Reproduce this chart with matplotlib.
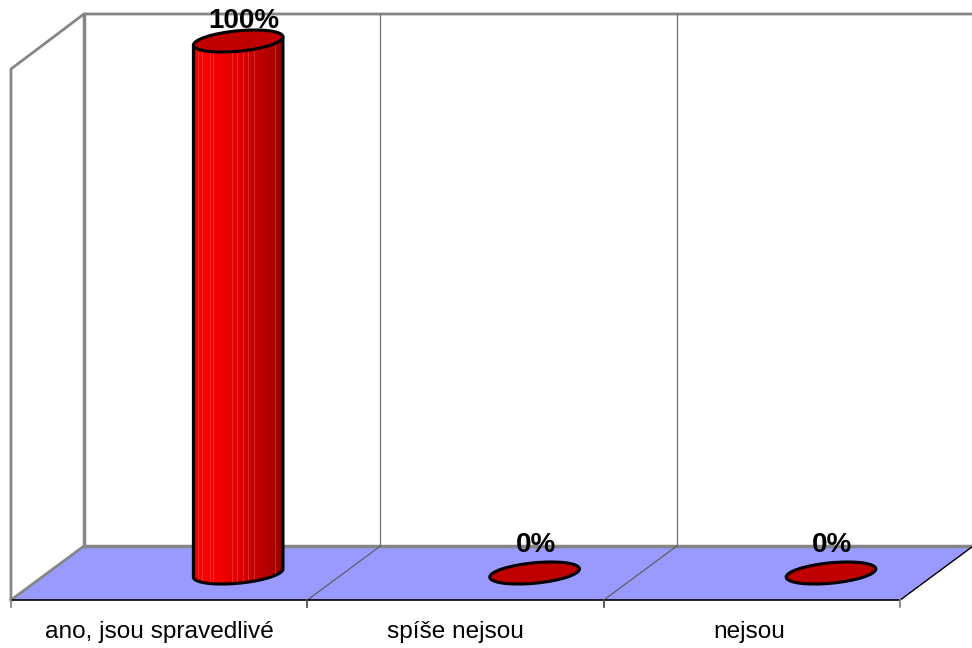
import numpy as np
import matplotlib
matplotlib.use('Agg')
import matplotlib.pyplot as plt
from matplotlib.colors import LinearSegmentedColormap
from matplotlib.patches import Ellipse, PathPatch, Polygon
from matplotlib.path import Path

categories = ['ano, jsou spravedlivé', 'spíše nejsou', 'nejsou']
values = [100, 0, 0]

plt.rcParams['font.family'] = ['Liberation Sans', 'DejaVu Sans']

# pixel layout of the fake 3d box
left, front_y, back_y, top_y = 11, 600, 546, 14
depth_x = 73
cat_w = 296.4
bar_shift = 79
base_y = 573
per_unit = 5.32
a, b, tilt = 45, 10.2, 5.5

grey = '#868686'
shade = LinearSegmentedColormap.from_list('cyl', [(0, '#e60000'), (0.1, '#ff0000'), (0.45, '#e60000'),
                                                  (0.7, '#c40000'), (0.92, '#a80000'), (1, '#8c0000')])
stripes = [5, 9, 17, 20, 39, 44, 50, 55, 61, 82]

fig = plt.figure(figsize=(9.72, 6.48), dpi=100)
ax = fig.add_axes([0, 0, 1, 1])
ax.set_xlim(0, 972)
ax.set_ylim(648, 0)
ax.axis('off')

n = len(categories)
right = left + n * cat_w
back_left = left + depth_x

ax.add_patch(Polygon([(left, front_y), (back_left, back_y), (right + depth_x, back_y), (right, front_y)],
                     fc='#9999ff', ec='none', zorder=1))

# walls
ax.plot([left, left, back_left, back_left, right + depth_x], [front_y, top_y + 55, top_y, top_y, top_y],
        color=grey, lw=2, zorder=2, solid_joinstyle='miter')
ax.plot([back_left, back_left], [top_y, back_y], color=grey, lw=2.5, zorder=2)
ax.plot([back_left, right + depth_x], [back_y, back_y], color=grey, lw=2.5, zorder=2)
ax.plot([left, back_left], [front_y, back_y], color=grey, lw=2, zorder=2)

# grid lines per category
for i in range(1, n):
    x = left + i * cat_w
    ax.plot([x + depth_x, x + depth_x], [top_y, back_y], color='#707070', lw=0.9, zorder=2)
    ax.plot([x, x + depth_x], [front_y, back_y], color='#606060', lw=0.9, zorder=2)
ax.plot([right, right + depth_x], [front_y, back_y], color='black', lw=1, zorder=2)

# front axis
ax.plot([left, right], [front_y, front_y], color='black', lw=1.2, zorder=3)
for i in range(n + 1):
    x = left + i * cat_w
    ax.plot([x, x], [front_y, front_y + 7], color=grey if i in (0, n) else '#505050', lw=1.3, zorder=3)

t = np.linspace(0, np.pi, 60)
rad = np.radians(tilt)
for i, (cat, val) in enumerate(zip(categories, values)):
    cx = left + (i + 0.5) * cat_w + bar_shift
    cy = base_y - val * per_unit
    if val > 0:
        # lower half of the base ellipse closes the cylinder side
        ex = a * np.cos(t[::-1]) * np.cos(rad) + b * np.sin(t[::-1]) * np.sin(rad)
        ey = a * np.cos(t[::-1]) * np.sin(-rad) + b * np.sin(t[::-1]) * np.cos(rad)
        verts = [(cx + ex[0], cy + ey[0])] + [(cx + p, base_y + q) for p, q in zip(ex, ey)] + [(cx + ex[-1], cy + ey[-1])]
        body = Polygon(verts, closed=True, fc='none', ec='none')
        ax.add_patch(body)
        im = ax.imshow(np.linspace(0, 1, 200).reshape(1, -1), cmap=shade, aspect='auto', zorder=4,
                       extent=[cx - a, cx + a, base_y + 12, cy - 12])
        im.set_clip_path(body)
        for s in stripes:
            ln, = ax.plot([cx - a + s, cx - a + s], [cy, base_y + 12], color='#ff9090', lw=0.7, alpha=0.3, zorder=4.5)
            ln.set_clip_path(body)
        ax.add_patch(PathPatch(Path(verts), fc='none', ec='black', lw=2.2, zorder=5))
    ax.add_patch(Ellipse((cx, cy), 2 * a, 2 * b, angle=-tilt, fc='#c00000', ec='black', lw=2.2, zorder=6))
    ax.text(cx + (6 if val > 0 else 1), cy - (13 if val > 0 else 21), f'{val}%', ha='center', va='baseline',
            fontsize=20, fontweight='bold', color='black', zorder=7)
    ax.text(left + (i + 0.5) * cat_w - (3 if i == n - 1 else 0), 638, cat, ha='center', va='baseline', fontsize=17.6, color='black', zorder=7)

ax.set_xlim(0, 972)
ax.set_ylim(648, 0)
fig.savefig('out.png', dpi=100)
